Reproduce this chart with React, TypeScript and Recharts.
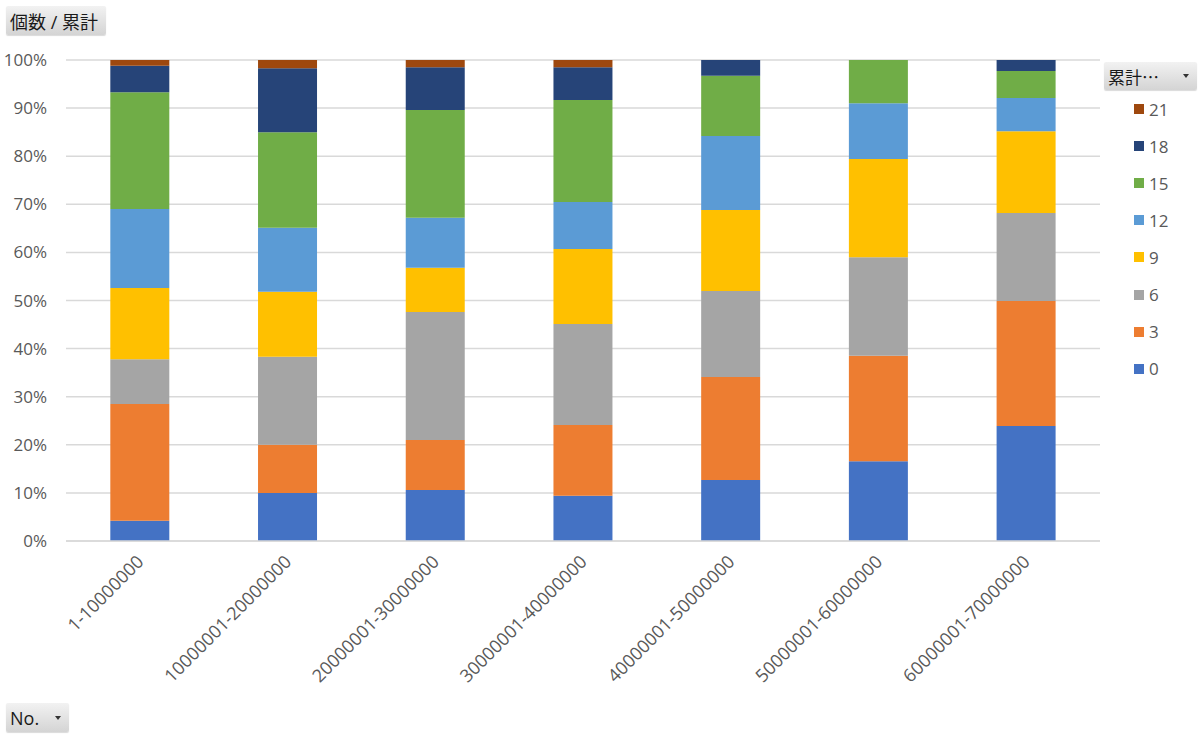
import React from 'react';
import { BarChart, Bar, XAxis, YAxis, CartesianGrid } from 'recharts';

const categories = ['1-10000000', '10000001-20000000', '20000001-30000000', '30000001-40000000', '40000001-50000000', '50000001-60000000', '60000001-70000000'];
const seriesKeys = ['0', '3', '6', '9', '12', '15', '18', '21'];
const seriesColors = ['#4472C4', '#ED7D31', '#A5A5A5', '#FFC000', '#5B9BD5', '#70AD47', '#264478', '#9E480E'];
const s0 = [4.2, 10.0, 10.6, 9.4, 12.7, 16.6, 23.9];
const s3 = [24.3, 10.0, 10.4, 14.7, 21.4, 21.9, 26.0];
const s6 = [9.3, 18.3, 26.6, 21.0, 17.9, 20.5, 18.3];
const s9 = [14.8, 13.5, 9.2, 15.6, 16.8, 20.4, 17.0];
const s12 = [16.4, 13.3, 10.4, 9.8, 15.4, 11.6, 6.9];
const s15 = [24.3, 19.9, 22.4, 21.2, 12.5, 9.0, 5.6];
const s18 = [5.5, 13.3, 8.9, 6.8, 3.3, 0, 2.3];
const s21 = [1.2, 1.7, 1.5, 1.5, 0, 0, 0];
const yTicks = [0, 0.1, 0.2, 0.3, 0.4, 0.5, 0.6, 0.7, 0.8, 0.9, 1];

const seriesValues = [s0, s3, s6, s9, s12, s15, s18, s21];
const data = categories.map((c, i) => {
  const row: Record<string, number | string> = { name: c };
  seriesKeys.forEach((k, j) => { row[k] = seriesValues[j][i]; });
  return row;
});

const FONT = '"Open Sans", "Noto Sans CJK JP", sans-serif';

const XTick = (props: any) => {
  const { x, y, payload } = props;
  return (
    <text x={0} y={0} transform={`translate(${x + 5},${y + 14}) rotate(-45)`} textAnchor="end" fontSize={18} fill="#595959" fontFamily={FONT}>
      {payload.value}
    </text>
  );
};

const buttonStyle: React.CSSProperties = {
  position: 'absolute',
  background: 'linear-gradient(#f2f2f2, #d4d4d4)',
  borderRadius: 2,
  fontFamily: FONT,
  fontSize: 18,
  color: '#1a1a1a',
  display: 'flex',
  alignItems: 'center',
  boxSizing: 'border-box',
  paddingLeft: 4,
  boxShadow: '0 1px 1px rgba(0,0,0,0.15)',
};

const Arrow = () => (
  <span style={{ display: 'inline-block', width: 0, height: 0, borderLeft: '3.5px solid transparent', borderRight: '3.5px solid transparent', borderTop: '4px solid #333', marginLeft: 'auto', marginRight: 8 }} />
);

export default function App() {
  const legendItems = seriesKeys.map((k, i) => ({ k, c: seriesColors[i] })).reverse();
  return (
    <div style={{ position: 'absolute', left: 0, top: 0, width: 1200, height: 736, background: '#fff', overflow: 'hidden' }}>
      <BarChart width={1200} height={736} data={data} stackOffset="expand" margin={{ top: 60, right: 100, left: 0, bottom: 0 }} barCategoryGap="30%">
        <CartesianGrid vertical={false} stroke="#d9d9d9" strokeWidth={1.5} />
        <XAxis dataKey="name" height={195} tick={<XTick />} tickLine={false} axisLine={{ stroke: '#d9d9d9', strokeWidth: 1.5 }} interval={0} />
        <YAxis width={66} ticks={yTicks} domain={[0, 1]} tickFormatter={(v: number) => `${Math.round(v * 100)}%`} tickLine={false} axisLine={false} tickMargin={13} tick={{ fontSize: 17, fill: '#595959', fontFamily: FONT }} />
        {seriesKeys.map((k, i) => (
          <Bar key={k} dataKey={k} stackId="a" fill={seriesColors[i]} isAnimationActive={false} />
        ))}
      </BarChart>
      <div style={{ ...buttonStyle, left: 6, top: 6, width: 100, height: 29 }}>個数 / 累計</div>
      <div style={{ ...buttonStyle, left: 6, top: 703, width: 63, height: 29 }}>No.<Arrow /></div>
      <div style={{ ...buttonStyle, left: 1104, top: 62, width: 93, height: 28, fontFamily: '"Noto Sans CJK JP", sans-serif', fontSize: 17 }}>累計…<Arrow /></div>
      {legendItems.map((it, i) => (
        <div key={it.k} style={{ position: 'absolute', left: 1134, top: 98 + i * 37.1, height: 22, display: 'flex', alignItems: 'center', fontFamily: FONT, fontSize: 17, color: '#595959' }}>
          <span style={{ display: 'inline-block', width: 10, height: 10, background: it.c, marginRight: 5 }} />
          {it.k}
        </div>
      ))}
    </div>
  );
}
